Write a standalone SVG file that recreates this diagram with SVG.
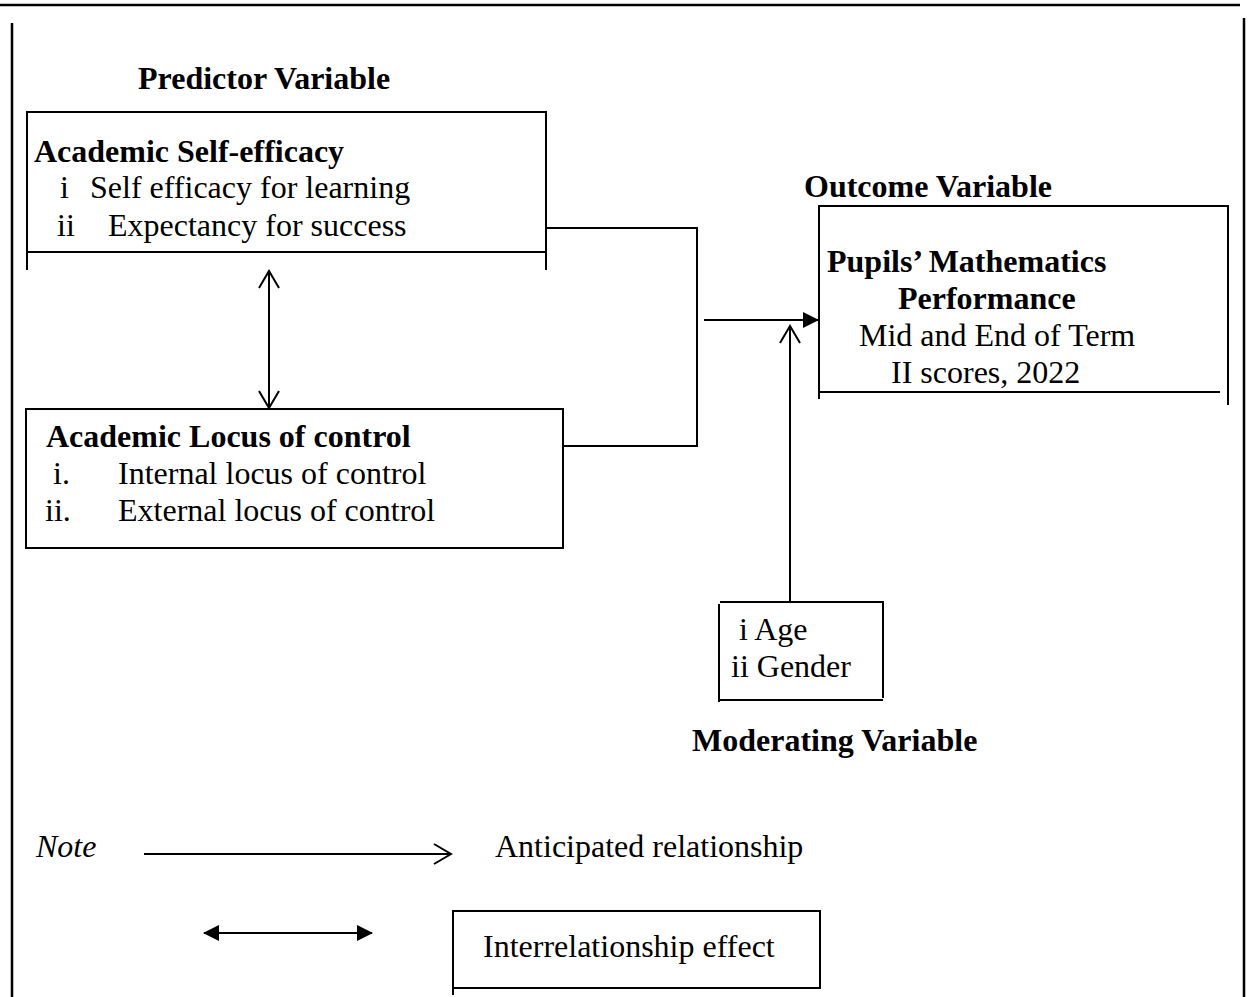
<svg xmlns="http://www.w3.org/2000/svg" width="1258" height="997" viewBox="0 0 1258 997">
<defs>
<style>
.t{font-family:"Liberation Serif","Times New Roman",serif;fill:#000}
.h{font-size:32px;font-weight:bold}
.b{font-size:32px}
.ln{stroke:#000;stroke-width:2;fill:none}
.frame{stroke:#000;stroke-width:2.5;fill:none}
</style>
<marker id="open" viewBox="0 0 20 22" refX="18" refY="11" markerWidth="20" markerHeight="22" markerUnits="userSpaceOnUse" orient="auto-start-reverse">
<path d="M1,1 L18,11 L1,21" fill="none" stroke="#000" stroke-width="2"/>
</marker>
<marker id="fill" viewBox="0 0 16 16" refX="15" refY="8" markerWidth="16" markerHeight="16" markerUnits="userSpaceOnUse" orient="auto-start-reverse">
<path d="M0,0 L16,8 L0,16 Z" fill="#000"/>
</marker>
</defs>
<rect width="1258" height="997" fill="#fff"/>
<g id="frame">
<line class="frame" x1="0" y1="5" x2="1240" y2="5"/>
<line class="frame" x1="12" y1="23" x2="12" y2="997"/>
<line class="frame" x1="1244" y1="18" x2="1244" y2="997"/>
</g>
<g id="predictor">
<text class="t h" x="138" y="89">Predictor Variable</text>
<path class="ln" d="M27,270 V112 H546 V270 M27,252 H546"/>
<text class="t h" x="34" y="162">Academic Self-efficacy</text>
<text class="t b" y="198"><tspan x="60">i</tspan><tspan x="90">Self efficacy for learning</tspan></text>
<text class="t b" y="236"><tspan x="57">ii</tspan><tspan x="108">Expectancy for success</tspan></text>
</g>
<g id="locus">
<rect class="ln" x="26" y="409" width="537" height="139" stroke-width="1.5"/>
<text class="t h" x="46" y="447">Academic Locus of control</text>
<text class="t b" y="484"><tspan x="53">i.</tspan><tspan x="118">Internal locus of control</tspan></text>
<text class="t b" y="521"><tspan x="45">ii.</tspan><tspan x="118">External locus of control</tspan></text>
</g>
<g id="outcome">
<text class="t h" x="804" y="197">Outcome Variable</text>
<path class="ln" d="M819,399 V206 H1228 V405 M819,392 H1220"/>
<text class="t h" x="827" y="272">Pupils’ Mathematics</text>
<text class="t h" x="898" y="309">Performance</text>
<text class="t b" x="859" y="346">Mid and End of Term</text>
<text class="t b" x="891" y="383">II scores, 2022</text>
</g>
<g id="moderating">
<path class="ln" d="M720,602 H883 V698 M719,604 V702 M719,700 H883"/>
<text class="t b" x="739" y="640">i Age</text>
<text class="t b" x="731" y="677">ii Gender</text>
<text class="t h" x="692" y="751">Moderating Variable</text>
</g>
<g id="connectors">
<path class="ln" d="M546,228 H697 V446 H563"/>
<line class="ln" x1="704" y1="320" x2="818" y2="320" marker-end="url(#fill)"/>
<line class="ln" x1="790" y1="602" x2="790" y2="326" marker-end="url(#open)"/>
<line class="ln" x1="269" y1="271" x2="269" y2="408" marker-start="url(#open)" marker-end="url(#open)"/>
</g>
<g id="legend">
<text class="t b" x="36" y="857" font-style="italic">Note</text>
<line class="ln" x1="144" y1="854" x2="451" y2="854" marker-end="url(#open)"/>
<text class="t b" x="495" y="857">Anticipated relationship</text>
<line class="ln" x1="204" y1="933" x2="372" y2="933" marker-start="url(#fill)" marker-end="url(#fill)"/>
<path class="ln" d="M453,995 V911 H820 V988 H453"/>
<text class="t b" x="483" y="957">Interrelationship effect</text>
</g>
</svg>
